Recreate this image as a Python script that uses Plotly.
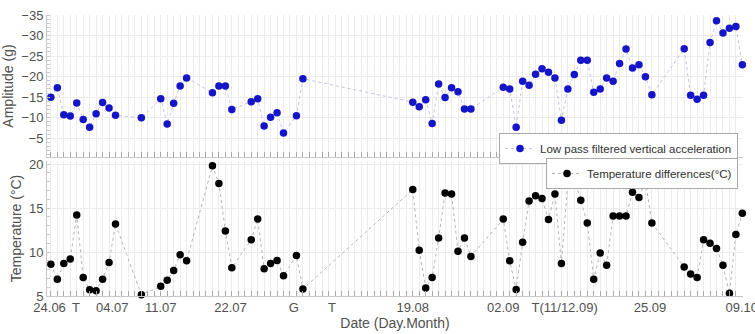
import plotly.graph_objects as go
from plotly.subplots import make_subplots

# x positions (days since 24.06)
days_amp = [0,1,2,3,4,5,6,7,8,9,10,14,17,18,19,20,21,25,26,27,28,31,32,33,34,35,36,38,39,
            56,57,58,59,60,61,62,63,64,65,70,71,72,73,74,75,76,77,78,79,80,81,82,83,84,85,
            86,87,88,89,90,91,92,93,98,99,100,101,102,103,104,105,106,107]
amplitude = [-15.0,-17.3,-10.7,-10.4,-13.6,-9.6,-7.7,-11.0,-13.7,-12.4,-10.6,-10.0,-14.6,-8.5,
             -13.5,-17.7,-19.7,-16.1,-17.7,-17.7,-12.0,-13.9,-14.6,-8.0,-10.1,-11.2,-6.3,-10.5,
             -19.5,-13.8,-12.7,-14.4,-8.6,-18.2,-14.9,-17.3,-16.3,-12.1,-12.1,-17.4,-17.0,-7.7,
             -18.9,-17.9,-20.6,-21.9,-21.1,-19.7,-9.4,-17.0,-20.5,-24.0,-24.0,-16.2,-17.0,-19.7,
             -18.9,-23.2,-26.7,-22.1,-22.9,-20.0,-15.6,-26.8,-15.5,-14.5,-15.5,-28.3,-33.6,-30.6,
             -31.8,-32.2,-22.9]
days_temp = days_amp
temperature = [8.6,6.9,8.7,9.2,14.2,7.1,5.7,5.6,6.9,8.8,13.2,5.15,6.1,6.8,7.9,9.7,9.0,19.8,17.8,
               12.4,8.2,11.4,13.75,8.1,8.7,9.05,7.3,9.6,5.8,17.1,10.2,5.9,7.1,11.6,16.7,16.6,10.1,
               11.6,9.5,13.75,9.0,5.75,11.1,15.8,16.4,16.1,13.7,16.6,8.7,18.0,18.2,15.9,13.3,6.9,
               9.9,8.5,14.1,14.1,14.1,16.8,16.2,18.1,13.3,8.3,7.5,7.1,11.4,11.0,10.4,8.5,5.3,12.0,14.4]

tick_pos = [-0.2, 3.9, 9.5, 17, 27.8, 37.6, 43.5, 56, 70, 79.5, 92.7, 106.9]
tick_text = ["24.06", "T", "04.07", "11.07", "22.07", "G", "T", "19.08", "02.09",
             "T(11/12.09)", "25.09", "09.10"]
amp_ticks = [-35, -30, -25, -20, -15, -10, -5]
temp_ticks = [5, 10, 15, 20]

W, H = 755, 334
ml, mr, mt, mb = 47, 12, 15, 38
ph = H - mt - mb
top_dom = [(H - mb - 157) / ph, 1.0]
bot_dom = [0.0, (H - mb - 161) / ph]

FAM = "Arial"
fig = make_subplots(rows=2, cols=1, shared_xaxes=True)

fig.add_trace(go.Scatter(
    x=days_amp, y=amplitude, mode="lines+markers",
    name="Low pass filtered vertical acceleration",
    line=dict(color="#c0c4e4", width=1, dash="dot"),
    marker=dict(color="#1414c8", size=7.5),
    cliponaxis=False, legend="legend"), row=1, col=1)
fig.add_trace(go.Scatter(
    x=days_temp, y=temperature, mode="lines+markers",
    name="Temperature differences(°C)",
    line=dict(color="#b4b4b4", width=1, dash="dot"),
    marker=dict(color="#000000", size=7.5),
    cliponaxis=False, legend="legend2"), row=2, col=1)

font = dict(family=FAM, size=13, color="#505050")
xcommon = dict(range=[-0.6, 107.1], showgrid=True, gridcolor="#ececec", gridwidth=1,
               dtick=1, tick0=0, showline=True, linecolor="#c8c8c8", automargin=False,
               ticks="inside", ticklen=5, tickcolor="#a8a8a8", zeroline=False)

fig.update_xaxes(**xcommon, tickmode="linear", showticklabels=False, domain=[0, 1], row=1, col=1)
fig.update_xaxes(**xcommon, tickmode="linear", showticklabels=False, row=2, col=1)

# labelled ticks on a separate overlay axis
fig.update_layout(xaxis3=dict(overlaying="x2", anchor="y2", range=[-0.6, 107.1],
                              tickmode="array", tickvals=tick_pos, ticktext=tick_text,
                              tickangle=0,
                              showgrid=False, showline=False, ticks="", side="bottom",
                              tickfont=font, zeroline=False, ticklabelstandoff=2,
                              ticklabeloverflow="allow", automargin=False,
                              title=dict(text="Date (Day.Month)", font=dict(family=FAM, size=14, color="#505050"),
                                         standoff=0)))
fig.add_trace(go.Scatter(x=[tick_pos[0]], y=[temp_ticks[0]], xaxis="x3", yaxis="y2",
                         mode="markers", marker=dict(opacity=0), showlegend=False,
                         hoverinfo="skip"))

fig.update_yaxes(range=[-0.45, -35], tickmode="array", tickvals=amp_ticks,
                 domain=top_dom, showgrid=True, gridcolor="#ececec", automargin=False,
                 showline=True, linecolor="#c8c8c8", ticks="", zeroline=False,
                 minor=dict(ticks="inside", ticklen=3, dtick=1, tickcolor="#c8c8c8", showgrid=False),
                 tickfont=font, title=dict(text="Amplitude (g)", font=dict(family=FAM, size=14, color="#505050"),
                                           standoff=4),
                 row=1, col=1)
fig.update_yaxes(range=[5, 20.35], tickmode="array", tickvals=temp_ticks,
                 domain=bot_dom, showgrid=True, gridcolor="#ececec", automargin=False,
                 showline=True, linecolor="#c8c8c8", ticks="", zeroline=False,
                 minor=dict(ticks="inside", ticklen=3, dtick=1, tickcolor="#c8c8c8", showgrid=False),
                 tickfont=font, title=dict(text="Temperature (°C)", font=dict(family=FAM, size=14, color="#505050"),
                                           standoff=4),
                 row=2, col=1)

legstyle = dict(bgcolor="white", bordercolor="#a8a8a8", borderwidth=1,
                font=dict(family=FAM, size=11.5, color="#303030"),
                xanchor="right", yanchor="top", itemwidth=30, tracegroupgap=0)
fig.update_layout(
    width=W, height=H, margin=dict(l=ml, r=mr, t=mt, b=mb, autoexpand=False),
    font=dict(family=FAM),
    paper_bgcolor="white", plot_bgcolor="white",
    legend=dict(x=(738 - ml) / (W - ml - mr), y=(H - mb - 133) / ph, **legstyle),
    legend2=dict(x=(738 - ml) / (W - ml - mr), y=(H - mb - 158) / ph, **legstyle),
    showlegend=True,
)

fig.write_html("out.html")
